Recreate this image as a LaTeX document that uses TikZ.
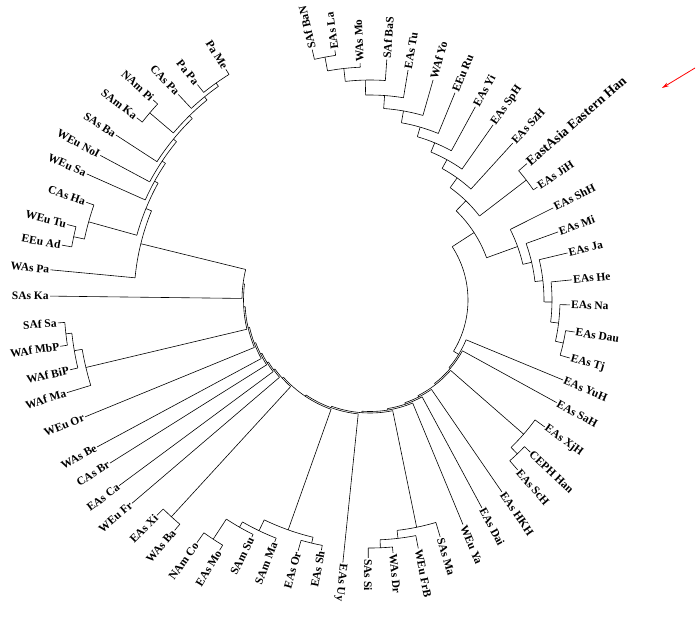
\documentclass[tikz,border=0pt]{standalone}
\usepackage{fontspec}
\setmainfont{Liberation Serif}
\usetikzlibrary{arrows.meta}

\newcommand\ladder[2]{% #1 list ang/tip/join (deepest first), #2 name to save
  \foreach \ang/\tip/\jn [count=\i] in {#1} {
    \ifnum\i=1 \xdef\ma{\ang}\xdef\mr{\tip}
    \else
      \draw (\ang:\jn) -- (\ang:\tip);
      \draw (\ma:\jn) -- (\ma:\mr);
      \draw (\ang:\jn) arc[start angle=\ang, end angle=\ma, radius=\jn];
      \pgfmathsetmacro\t{(\ang+\ma)/2}\xdef\ma{\t}\xdef\mr{\jn}
    \fi}
  \expandafter\xdef\csname #2A\endcsname{\ma}%
  \expandafter\xdef\csname #2R\endcsname{\mr}}

\begin{document}
\begin{tikzpicture}[x=1pt, y=1pt, line width=0.6pt,
lab/.style = {font=\bfseries\fontsize{11.5}{11.5}\selectfont, inner sep=1pt}]
\useasboundingbox (-370,-322) rectangle (327,300);
% sub clades
\ladder{-8.9/207/0, -16.2/208/198, -1.4/200/190, 5.7/203/182, 13.4/203/174, 19.9/200/166, 26.7/205/157}{shh}
\ladder{41/208/0, 34/202/197}{eh}
\ladder{-43.5/221/0, -49/225/213, -36/216/204}{xj}
\ladder{-90.4/258/0, -84.8/254/248, -79/253/240, -73.5/247/232}{sm}
\ladder{-106/261/0, -101/255/250}{os}
\ladder{-125.5/298/0, -121/292/286, -116.5/265/262, -111.5/260/256, \osA/\osR/244}{sc}
\ladder{-134.7/303/0, -130.3/302/294}{bx}
\ladder{-175.8/313/0, -171.5/313/306, -166.9/308/300, -163/317/292}{wa}
\ladder{-190.1/313/0, -194/312/303, -199/300/292}{ha}
\ladder{-218/296/0, -222.7/295/289}{kp}
\ladder{-238/272/0, -231.3/276/266, -227/281/262, \kpA/\kpR/258, -213/303/254, -208.2/306/250, -204/310/246, \haA/\haR/242, -185.4/321/236}{ul}
% main ladders
\ladder{103/257/0, 98/252/247, 92.4/237/233, 86/241/220, 80.6/233/205, 74/229/192, 67.7/224/180, 61.4/220/170, 54.9/214/160, 47.7/212/150, \ehA/\ehR/138, \shhA/\shhR/124}{top}
\ladder{\ulA/\ulR/0, -180.7/320/128, \waA/\waR/126.5, -157.7/308/125, -151.7/310/123.5, -147.9/307/122, -143.5/312/120.5, -139.5/313/119, \bxA/\bxR/117.5, \scA/\scR/116, -95.9/264/114.5, \smA/\smR/113, -67.5/243/111.5, -61.7/236/110, -55.5/233/108.5, \xjA/\xjR/107, -28.8/213/105.5, -22.5/209/104}{low}
% root
\draw (\topA:98) -- (\topA:\topR);
\draw (\lowA:98) -- (\lowA:\lowR);
\draw (\topA:98) arc[start angle=\topA, end angle=\lowA, radius=98];
% labels
\foreach \ang/\tip/\txt [count=\k] in {
  103/257/SAf BaN, 98/252/EAs La, 92.4/237/WAs Mo, 86/241/SAf BaS, 80.6/233/EAs Tu,
  74/229/WAf Yo, 67.7/224/EEu Ru, 61.4/220/EAs Yi, 54.9/214/EAs SpH, 47.7/212/EAs SzH,
  34/202/EAs JiH, 26.7/205/EAs ShH, 19.9/200/EAs Mi, 13.4/203/EAs Ja,
  5.7/203/EAs He, -1.4/200/EAs Na, -8.9/207/EAs Dau, -16.2/208/EAs Tj, -22.5/209/EAs YuH,
  -28.8/213/EAs SaH, -36/216/EAs XjH, -43.5/221/CEPH Han, -49/225/EAs ScH, -55.5/233/EAs HKH,
  -61.7/236/EAs Dai, -67.5/243/WEu Ya, -73.5/247/SAs Ma, -79/253/WEu FrB, -84.8/254/WAs Dr,
  -90.4/258/SAs Si, -95.9/264/EAs Uy, -101/255/EAs Sh, -106/261/EAs Or, -111.5/260/SAm Ma,
  -116.5/265/SAm Su, -121/292/EAs Mo, -125.5/298/NAm Co, -130.3/302/WAs Ba, -134.7/303/EAs Xi,
  -139.5/313/WEu Fr, -143.5/312/EAs Ca, -147.9/307/CAs Br, -151.7/310/WAs Be, -157.7/308/WEu Or,
  -163/317/WAf Ma, -166.9/308/WAf BiP, -171.5/313/WAf MbP, -175.8/313/SAf Sa, -180.7/320/SAs Ka,
  -185.4/321/WAs Pa, -190.1/313/EEu Ad, -194/312/WEu Tu, -199/300/CAs Ha, -204/310/WEu Sa,
  -208.2/306/WEu NoI, -213/303/SAs Ba, -218/296/SAm Ka, -222.7/295/NAm Pi, -227/281/CAs Pa,
  -231.3/276/Pa Pa, -238/272/Pa Me} {
  \pgfmathsetmacro\na{mod(\ang+720,360)}
  \pgfmathsetmacro\na{\na>180 ? \na-360 : \na}
  \pgfmathsetmacro\rs{(\na>-98 && \na<110) ? 1 : 0}
  \ifdim\rs pt>0.5pt
    \node[lab, anchor=west, rotate=\na] (leaf\k) at (\ang:\tip) {\txt};
  \else
    \node[lab, anchor=east, rotate=\na+180] (leaf\k) at (\ang:\tip) {\txt};
  \fi
}
\node[lab, font=\bfseries\fontsize{13.5}{13.5}\selectfont, anchor=west, rotate=41] (han) at (41:208) {EastAsia Eastern Han};
% arrow
\coordinate (arrowstart) at (325,232);
\coordinate (arrowend) at (292,212);
\draw[red, line width=0.8pt, -{Stealth[length=7pt, width=4pt]}] (arrowstart) -- (arrowend);
\end{tikzpicture}
\end{document}
